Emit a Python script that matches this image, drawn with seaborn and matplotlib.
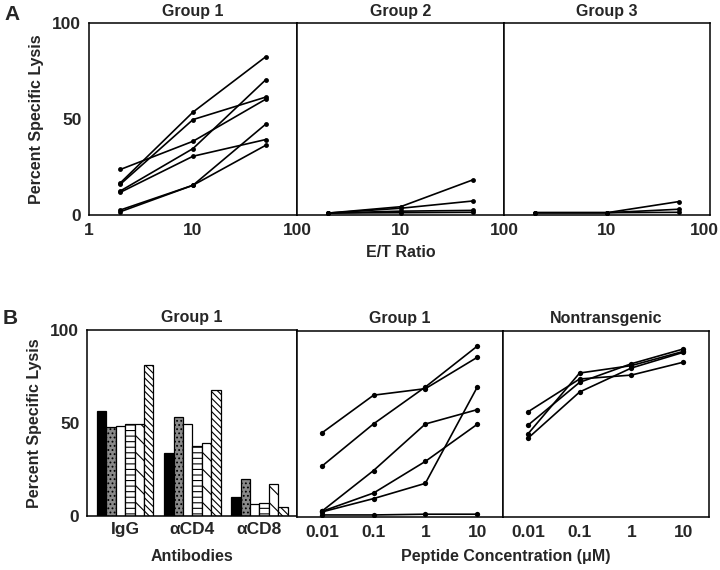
import numpy as np
import pandas as pd
import seaborn as sns
import matplotlib.pyplot as plt
from matplotlib.transforms import ScaledTranslation

# ---- Data ----
et_ratio = [2, 10, 50]
group1_lysis = [
    [16.7, 53.6, 82.4],
    [16.0, 49.7, 61.4],
    [23.7, 38.4, 60.3],
    [12.5, 34.6, 70.4],
    [11.8, 30.6, 39.3],
    [2.6, 15.5, 47.3],
    [1.7, 15.5, 36.3],
]
group2_lysis = [
    [1.0, 4.3, 18.3],
    [1.0, 3.5, 7.3],
    [1.0, 2.0, 2.4],
    [1.0, 1.2, 1.4],
]
group3_lysis = [
    [1.2, 1.2, 7.0],
    [1.2, 1.2, 3.0],
    [1.2, 1.2, 1.4],
]

antibodies = ['IgG', 'αCD4', 'αCD8']
bar_series = ['s1', 's2', 's3', 's4', 's5', 's6']
bar_values = [
    [56.6, 47.9, 48.3, 49.7, 49.7, 81.1],
    [34.1, 53.1, 49.6, 37.9, 39.0, 67.9],
    [10.1, 19.9, 6.5, 6.8, 17.4, 5.0],
]

peptide_conc = ['0.01', '0.1', '1', '10']
peptide_group1 = [
    [45.2, 65.5, 69.0, 85.8],
    [27.3, 50.1, 69.9, 91.8],
    [3.1, 25.0, 50.0, 57.7],
    [3.0, 12.9, 29.9, 49.8],
    [2.7, 9.9, 18.1, 69.7],
    [1.1, 1.1, 1.5, 1.5],
]
peptide_nontg = [
    [56.5, 74.2, 76.3, 83.2],
    [49.3, 72.4, 82.4, 90.3],
    [44.6, 77.4, 81.4, 89.0],
    [42.3, 67.2, 80.1, 88.5],
]

# ---- Style ----
sns.set_style('white')
plt.rcParams['font.family'] = ['Liberation Sans', 'DejaVu Sans']
plt.rcParams['font.weight'] = 'bold'
plt.rcParams['hatch.linewidth'] = 0.8
FS = 11.5    # titles / axis labels
TFS = 12.5   # tick labels


def long_df(rows, xs):
    recs = []
    for i, r in enumerate(rows):
        for x, y in zip(xs, r):
            recs.append({'unit': i, 'x': x, 'y': y})
    return pd.DataFrame(recs)


def style_box(ax, first):
    for s in ax.spines.values():
        s.set_visible(True)
        s.set_color('black')
        s.set_linewidth(1.1)
    ax.set_ylim(0, 100)
    ax.set_yticks([0, 25, 50, 75, 100])
    ax.set_yticklabels(['0', '', '50', '', '100'] if first else [''] * 5)
    ax.tick_params(axis='y', direction='inout', length=5, width=1, labelsize=TFS, pad=3)
    ax.tick_params(axis='x', direction='inout', length=3, width=1, labelsize=TFS, pad=4)
    for t in ax.get_yticklabels() + ax.get_xticklabels():
        t.set_fontweight('bold')
    ax.set_xlabel('')
    ax.set_ylabel('')


fig = plt.figure(figsize=(7.2, 5.7), dpi=100)
W, H = 720, 570


def add_ax(x0, y0, x1, y1):
    return fig.add_axes([x0 / W, 1 - y1 / H, (x1 - x0) / W, (y1 - y0) / H])


# ---- Panel A ----
top_x = [89, 297, 504, 710]
top_data = [group1_lysis, group2_lysis, group3_lysis]
top_titles = ['Group 1', 'Group 2', 'Group 3']
for k in range(3):
    ax = add_ax(top_x[k], 23, top_x[k + 1], 215)
    df = long_df(top_data[k], et_ratio)
    sns.lineplot(data=df, x='x', y='y', units='unit', estimator=None, color='black',
                 lw=1.2, marker='o', markersize=3.5, markeredgewidth=0, ax=ax)
    ax.set_xscale('log')
    ax.set_xlim(1, 100)
    ax.set_xticks([1, 10, 100])
    ax.minorticks_off()
    ax.set_xticklabels(['1', '10', '100'] if k == 0 else ['', '10', '100'])
    style_box(ax, k == 0)
    ax.set_title(top_titles[k], fontsize=FS, fontweight='bold', pad=5)
    if k == 0:
        ax.set_ylabel('Percent Specific Lysis', fontsize=FS, fontweight='bold', labelpad=6)
    if k == 1:
        ax.set_xlabel('E/T Ratio', fontsize=FS, fontweight='bold', labelpad=5)
    if k == 2:
        # keep the last "100" inside the figure, as in the original
        last = ax.get_xticklabels()[-1]
        last.set_transform(last.get_transform() + ScaledTranslation(-6 / 100, 0, fig.dpi_scale_trans))

# ---- Panel B: bars ----
ax = add_ax(87, 330, 297, 516)
bdf = pd.DataFrame([{'ab': a, 'series': s, 'val': v}
                    for a, row in zip(antibodies, bar_values)
                    for s, v in zip(bar_series, row)])
faces = ['black', '#8a8a8a', 'white', 'white', 'white', 'white']
sns.barplot(data=bdf, x='ab', y='val', hue='series', palette=faces, width=0.84,
            gap=0, edgecolor='black', linewidth=0.9, legend=False, ax=ax)
hatches = ['', '....', '', '---', '\\\\', '\\\\\\\\\\']
for cont, h in zip(ax.containers, hatches):
    for p in cont:
        p.set_hatch(h)
ax.set_xlim(-0.57, 2.56)
style_box(ax, True)
ax.tick_params(axis='x', length=0)
ax.set_title('Group 1', fontsize=FS, fontweight='bold', pad=6)
ax.set_ylabel('Percent Specific Lysis', fontsize=FS, fontweight='bold', labelpad=6)
ax.set_xlabel('Antibodies', fontsize=FS, fontweight='bold', labelpad=9)

# ---- Panel B: peptide ----
pep_x = [297, 503, 709]
pep_data = [peptide_group1, peptide_nontg]
pep_titles = ['Group 1', 'Nontransgenic']
for k in range(2):
    ax = add_ax(pep_x[k], 331, pep_x[k + 1], 517)
    df = long_df(pep_data[k], range(len(peptide_conc)))
    sns.lineplot(data=df, x='x', y='y', units='unit', estimator=None, color='black',
                 lw=1.2, marker='o', markersize=3.8, markeredgewidth=0, ax=ax)
    ax.set_xlim(-0.48, 3.5)
    ax.set_xticks(range(len(peptide_conc)))
    ax.set_xticklabels(peptide_conc)
    style_box(ax, False)
    ax.set_title(pep_titles[k], fontsize=FS, fontweight='bold', pad=6)

fig.text(506 / W, 1 - 557 / H, 'Peptide Concentration (μM)', ha='center', va='center',
         fontsize=FS, fontweight='bold')
fig.text(4 / W, 1 - 14 / H, 'A', ha='left', va='center', fontsize=15, fontweight='bold')
fig.text(3 / W, 1 - 318 / H, 'B', ha='left', va='center', fontsize=15, fontweight='bold')

fig.savefig('out.png', dpi=100, facecolor='white')
